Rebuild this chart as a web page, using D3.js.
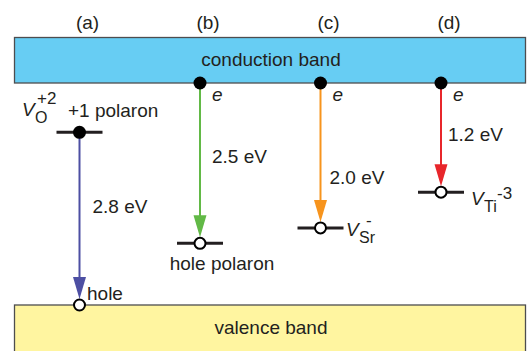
<!DOCTYPE html>
<html>
<head>
<meta charset="utf-8">
<script src="https://cdn.jsdelivr.net/npm/d3@7"></script>
<style>
  body { margin: 0; background: #fff; }
  svg text { font-family: "Liberation Sans", Arial, sans-serif; fill: #231f20; }
</style>
</head>
<body>
<div id="chart"></div>
<script>
// Transitions drawn in each panel
const panels = ['(a)', '(b)', '(c)', '(d)'];
const transitionLabels = ['2.8 eV', '2.5 eV', '2.0 eV', '1.2 eV'];
const arrowColors = ['#4d4fa3', '#62b946', '#f7941d', '#e8262b'];

// Energies in eV above the valence band maximum (drawing units)
const bandGap = 3.6;
const levelEnergy = [2.8, 1.0, 1.25, 1.83];
// Arrow start / end energies
const arrowFrom = [2.8, bandGap, bandGap, bandGap];
const arrowTo = [0, 1.0, 1.25, 1.83];

const width = 528;
const height = 351;

const svg = d3.select('#chart')
    .append('svg')
    .attr('width', width)
    .attr('height', height);

// Scales
const x = d3.scalePoint()
    .domain(d3.range(panels.length))
    .range([79.5, 441]);

const y = d3.scaleLinear()
    .domain([0, bandGap])
    .range([305, 83]);

// Bands
svg.append('rect')
    .attr('x', 14.5)
    .attr('y', 37.5)
    .attr('width', 511)
    .attr('height', y(bandGap) - 37.5)
    .style('fill', '#67cdf3')
    .style('stroke', '#4d4d4f')
    .style('stroke-width', 1.3);

svg.append('rect')
    .attr('x', 14.5)
    .attr('y', y(0))
    .attr('width', 511)
    .attr('height', 60)
    .style('fill', '#fff5a0')
    .style('stroke', '#4d4d4f')
    .style('stroke-width', 1.3);

svg.append('text')
    .attr('x', 271)
    .attr('y', 66)
    .attr('text-anchor', 'middle')
    .style('font-size', '19px')
    .text('conduction band');

svg.append('text')
    .attr('x', 271)
    .attr('y', 334)
    .attr('text-anchor', 'middle')
    .style('font-size', '19px')
    .text('valence band');

// Panel labels
svg.append('g')
    .selectAll('text')
    .data(panels)
    .enter()
    .append('text')
    .attr('x', (d, i) => x(i) + 8)
    .attr('y', 29)
    .attr('text-anchor', 'middle')
    .style('font-size', '19px')
    .text(d => d);

// Level bars
svg.append('g')
    .selectAll('line')
    .data(levelEnergy)
    .enter()
    .append('line')
    .attr('x1', (d, i) => x(i) - 23)
    .attr('x2', (d, i) => x(i) + 23)
    .attr('y1', d => y(d))
    .attr('y2', d => y(d))
    .style('stroke', '#231f20')
    .style('stroke-width', 3);

// Arrows
const headLen = 22;
const headHalf = 6.5;
const arrows = svg.append('g')
    .selectAll('g')
    .data(arrowFrom.map((from, i) => ({ from, to: arrowTo[i], color: arrowColors[i], i })))
    .enter()
    .append('g');

arrows.append('line')
    .attr('x1', d => x(d.i))
    .attr('x2', d => x(d.i))
    .attr('y1', d => y(d.from))
    .attr('y2', d => y(d.to) - 6 - headLen + 2)
    .style('stroke', d => d.color)
    .style('stroke-width', 2);

arrows.append('path')
    .attr('d', d => {
        const cx = x(d.i);
        const tip = y(d.to) - 6;
        return `M${cx - headHalf},${tip - headLen}L${cx + headHalf},${tip - headLen}L${cx},${tip}Z`;
    })
    .style('fill', d => d.color);

// Transition energy labels
const labelPos = [
    { dx: 13, dy: 213 },
    { dx: 12, dy: 163 },
    { dx: 9, dy: 184 },
    { dx: 7, dy: 141 }
];
svg.append('g')
    .selectAll('text')
    .data(transitionLabels)
    .enter()
    .append('text')
    .attr('x', (d, i) => x(i) + labelPos[i].dx)
    .attr('y', (d, i) => labelPos[i].dy)
    .style('font-size', '19px')
    .text(d => d);

// Electrons at the conduction band edge (b, c, d) and the trapped electron in (a)
const electrons = [levelEnergy[0], bandGap, bandGap, bandGap];
svg.append('g')
    .selectAll('circle')
    .data(electrons)
    .enter()
    .append('circle')
    .attr('cx', (d, i) => x(i))
    .attr('cy', d => y(d))
    .attr('r', 6.5)
    .style('fill', '#000');

svg.append('g')
    .selectAll('text')
    .data(electrons.slice(1))
    .enter()
    .append('text')
    .attr('x', (d, i) => x(i + 1) + 12)
    .attr('y', 101)
    .style('font-size', '19px')
    .style('font-style', 'italic')
    .text('e');

// Holes
svg.append('g')
    .selectAll('circle')
    .data(arrowTo)
    .enter()
    .append('circle')
    .attr('cx', (d, i) => x(i))
    .attr('cy', d => y(d))
    .attr('r', 5.5)
    .style('fill', '#fff')
    .style('stroke', '#000')
    .style('stroke-width', 2);

// Defect / polaron labels
svg.append('text')
    .attr('x', 87)
    .attr('y', 300)
    .style('font-size', '19px')
    .text('hole');

svg.append('text')
    .attr('x', x(1) + 22)
    .attr('y', 270)
    .attr('text-anchor', 'middle')
    .style('font-size', '19px')
    .text('hole polaron');

svg.append('text')
    .attr('x', 68)
    .attr('y', 117)
    .style('font-size', '19px')
    .text('+1 polaron');

function defectLabel(xPos, yPos, sub, sup, supDx, supDy) {
    const g = svg.append('g');
    g.append('text')
        .attr('x', xPos)
        .attr('y', yPos)
        .style('font-size', '19px')
        .style('font-style', 'italic')
        .text('V');
    g.append('text')
        .attr('x', xPos + 13)
        .attr('y', yPos + 7)
        .style('font-size', '16px')
        .text(sub);
    g.append('text')
        .attr('x', xPos + supDx)
        .attr('y', yPos + supDy)
        .style('font-size', '17px')
        .text(sup);
}

defectLabel(22, 116, 'O', '+2', 15, -12);
defectLabel(346, 236, 'Sr', '-', 20, -10);
defectLabel(471, 205, 'Ti', '-3', 26, -6);
</script>
</body>
</html>
